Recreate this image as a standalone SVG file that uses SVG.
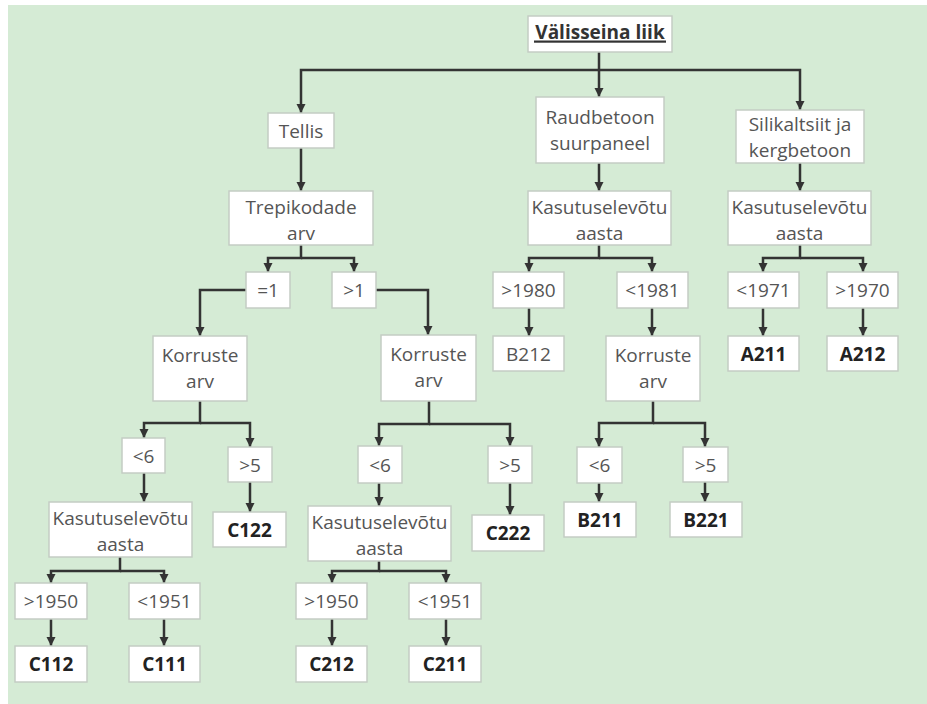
<svg xmlns="http://www.w3.org/2000/svg" width="927" height="704" viewBox="0 0 927 704">
<defs>
<style>
.bg{fill:#d5ebd5}
.box{fill:#ffffff;stroke:#c4cdc4;stroke-width:1.5}
.t{font-family:"Open Sans","Noto Sans","Liberation Sans",sans-serif;font-size:19px;fill:#555555;text-anchor:middle}
.b{font-family:"Open Sans","Noto Sans","Liberation Sans",sans-serif;font-size:19px;font-weight:bold;fill:#222222;text-anchor:middle}
.c{fill:none;stroke:#333333;stroke-width:2.5;marker-end:url(#ah)}
.n{fill:none;stroke:#333333;stroke-width:2.5}
</style>
<marker id="ah" markerUnits="userSpaceOnUse" markerWidth="10" markerHeight="10" refX="9" refY="5" orient="auto">
<path d="M0,0.5 L9,5 L0,9.5 z" fill="#333333"/>
</marker>
</defs>
<rect x="0" y="0" width="927" height="704" fill="#ffffff"/>
<rect class="bg" x="8" y="5" width="919" height="699"/>

<g id="connectors">
<path class="n" d="M599,52 V70"/>
<path class="c" d="M599,70 H301 V113"/>
<path class="c" d="M599,70 V97"/>
<path class="c" d="M599,70 H800 V110"/>
<path class="c" d="M301,148 V191"/>
<path class="c" d="M301,245 V258 H268 V272"/>
<path class="c" d="M301,258 H354 V272"/>
<path class="c" d="M246,290 H200 V336"/>
<path class="c" d="M376,290 H428 V335"/>
<path class="c" d="M200,401 V423 H144 V438"/>
<path class="c" d="M200,423 H250 V447"/>
<path class="c" d="M144,473 V502"/>
<path class="c" d="M250,482 V512"/>
<path class="c" d="M120,557 V571 H51 V583"/>
<path class="c" d="M120,571 H164 V583"/>
<path class="c" d="M51,619 V646"/>
<path class="c" d="M164,619 V646"/>
<path class="c" d="M429,401 V424 H379 V446"/>
<path class="c" d="M429,424 H510 V446"/>
<path class="c" d="M379,483 V506"/>
<path class="c" d="M510,483 V515"/>
<path class="c" d="M379,561 V571 H332 V583"/>
<path class="c" d="M379,571 H446 V583"/>
<path class="c" d="M332,619 V646"/>
<path class="c" d="M446,619 V646"/>
<path class="c" d="M599,163 V191"/>
<path class="c" d="M599,245 V258 H529 V272"/>
<path class="c" d="M599,258 H652 V272"/>
<path class="c" d="M529,308 V336"/>
<path class="c" d="M652,308 V336"/>
<path class="c" d="M653,401 V423 H599 V447"/>
<path class="c" d="M653,423 H705 V447"/>
<path class="c" d="M599,483 V502"/>
<path class="c" d="M705,482 V502"/>
<path class="c" d="M800,163 V191"/>
<path class="c" d="M800,245 V258 H763 V272"/>
<path class="c" d="M800,258 H863 V272"/>
<path class="c" d="M763,308 V336"/>
<path class="c" d="M863,308 V336"/>
</g>

<g id="root"><rect class="box" x="528" y="16" width="144" height="36"/><text class="b" x="600" y="39" style="fill:#333333">Välisseina liik</text><rect x="534" y="40.5" width="132" height="2.2" fill="#333333"/></g>
<g id="tellis"><rect class="box" x="268" y="113" width="66" height="35"/><text class="t" x="301" y="137.5">Tellis</text></g>
<g id="raudbetoon"><rect class="box" x="536" y="97" width="128" height="66"/><text class="t" x="600" y="123.5">Raudbetoon</text><text class="t" x="600" y="149.5">suurpaneel</text></g>
<g id="silikaltsiit"><rect class="box" x="736" y="110" width="128" height="53"/><text class="t" x="800" y="130.5">Silikaltsiit ja</text><text class="t" x="800" y="156.5">kergbetoon</text></g>
<g id="trepikodade"><rect class="box" x="229" y="191" width="144" height="54"/><text class="t" x="301" y="213.5">Trepikodade</text><text class="t" x="301" y="239.5">arv</text></g>
<g id="kas-mid"><rect class="box" x="528" y="191" width="143" height="54"/><text class="t" x="599.5" y="213.5">Kasutuselevõtu</text><text class="t" x="599.5" y="239.5">aasta</text></g>
<g id="kas-right"><rect class="box" x="728" y="191" width="143" height="54"/><text class="t" x="799.5" y="213.5">Kasutuselevõtu</text><text class="t" x="799.5" y="239.5">aasta</text></g>
<g id="eq1"><rect class="box" x="246" y="272" width="44" height="36"/><text class="t" x="268" y="296.5">=1</text></g>
<g id="gt1"><rect class="box" x="332" y="272" width="44" height="36"/><text class="t" x="354" y="296.5">&gt;1</text></g>
<g id="gt1980"><rect class="box" x="493" y="272" width="71" height="36"/><text class="t" x="528.5" y="296.5">&gt;1980</text></g>
<g id="lt1981"><rect class="box" x="617" y="272" width="71" height="36"/><text class="t" x="652.5" y="296.5">&lt;1981</text></g>
<g id="lt1971"><rect class="box" x="728" y="272" width="71" height="36"/><text class="t" x="763.5" y="296.5">&lt;1971</text></g>
<g id="gt1970"><rect class="box" x="827" y="272" width="71" height="36"/><text class="t" x="862.5" y="296.5">&gt;1970</text></g>
<g id="korruste-left"><rect class="box" x="153" y="336" width="94" height="65"/><text class="t" x="200" y="361.5">Korruste</text><text class="t" x="200" y="387.5">arv</text></g>
<g id="korruste-right"><rect class="box" x="381" y="335" width="95" height="66"/><text class="t" x="428.5" y="360.5">Korruste</text><text class="t" x="428.5" y="386.5">arv</text></g>
<g id="korruste-mid"><rect class="box" x="606" y="336" width="94" height="65"/><text class="t" x="653" y="361.5">Korruste</text><text class="t" x="653" y="387.5">arv</text></g>
<g id="B212"><rect class="box" x="493" y="336" width="71" height="35"/><text class="t" x="528.5" y="360.5">B212</text></g>
<g id="A211"><rect class="box" x="728" y="336" width="71" height="35"/><text class="b" x="763.5" y="360.5">A211</text></g>
<g id="A212"><rect class="box" x="827" y="336" width="71" height="35"/><text class="b" x="862.5" y="360.5">A212</text></g>
<g id="lt6-left"><rect class="box" x="122" y="438" width="43" height="35"/><text class="t" x="143.5" y="462.5">&lt;6</text></g>
<g id="gt5-left"><rect class="box" x="228" y="447" width="44" height="35"/><text class="t" x="250" y="471.5">&gt;5</text></g>
<g id="lt6-right"><rect class="box" x="358" y="446" width="44" height="37"/><text class="t" x="380" y="471.5">&lt;6</text></g>
<g id="gt5-right"><rect class="box" x="488" y="446" width="44" height="37"/><text class="t" x="510" y="471.5">&gt;5</text></g>
<g id="lt6-mid"><rect class="box" x="577" y="447" width="45" height="36"/><text class="t" x="599.5" y="471.5">&lt;6</text></g>
<g id="gt5-mid"><rect class="box" x="683" y="447" width="45" height="35"/><text class="t" x="705.5" y="471.5">&gt;5</text></g>
<g id="kas-left"><rect class="box" x="49" y="502" width="143" height="55"/><text class="t" x="120.5" y="524.5">Kasutuselevõtu</text><text class="t" x="120.5" y="550.5">aasta</text></g>
<g id="C122"><rect class="box" x="213" y="512" width="73" height="35"/><text class="b" x="249.5" y="536.5">C122</text></g>
<g id="kas-lower"><rect class="box" x="308" y="506" width="143" height="55"/><text class="t" x="379.5" y="528.5">Kasutuselevõtu</text><text class="t" x="379.5" y="554.5">aasta</text></g>
<g id="C222"><rect class="box" x="472" y="515" width="72" height="36"/><text class="b" x="508" y="539.5">C222</text></g>
<g id="B211"><rect class="box" x="564" y="502" width="72" height="35"/><text class="b" x="600" y="526.5">B211</text></g>
<g id="B221"><rect class="box" x="670" y="502" width="72" height="35"/><text class="b" x="706" y="526.5">B221</text></g>
<g id="gt1950-left"><rect class="box" x="15" y="583" width="72" height="36"/><text class="t" x="51" y="607.5">&gt;1950</text></g>
<g id="lt1951-left"><rect class="box" x="129" y="583" width="71" height="36"/><text class="t" x="164.5" y="607.5">&lt;1951</text></g>
<g id="C112"><rect class="box" x="15" y="646" width="72" height="36"/><text class="b" x="51" y="670.5">C112</text></g>
<g id="C111"><rect class="box" x="129" y="646" width="71" height="36"/><text class="b" x="164.5" y="670.5">C111</text></g>
<g id="gt1950-right"><rect class="box" x="296" y="583" width="71" height="36"/><text class="t" x="331.5" y="607.5">&gt;1950</text></g>
<g id="lt1951-right"><rect class="box" x="409" y="583" width="72" height="36"/><text class="t" x="445" y="607.5">&lt;1951</text></g>
<g id="C212"><rect class="box" x="296" y="646" width="71" height="36"/><text class="b" x="331.5" y="670.5">C212</text></g>
<g id="C211"><rect class="box" x="409" y="646" width="72" height="36"/><text class="b" x="445" y="670.5">C211</text></g>
</svg>
